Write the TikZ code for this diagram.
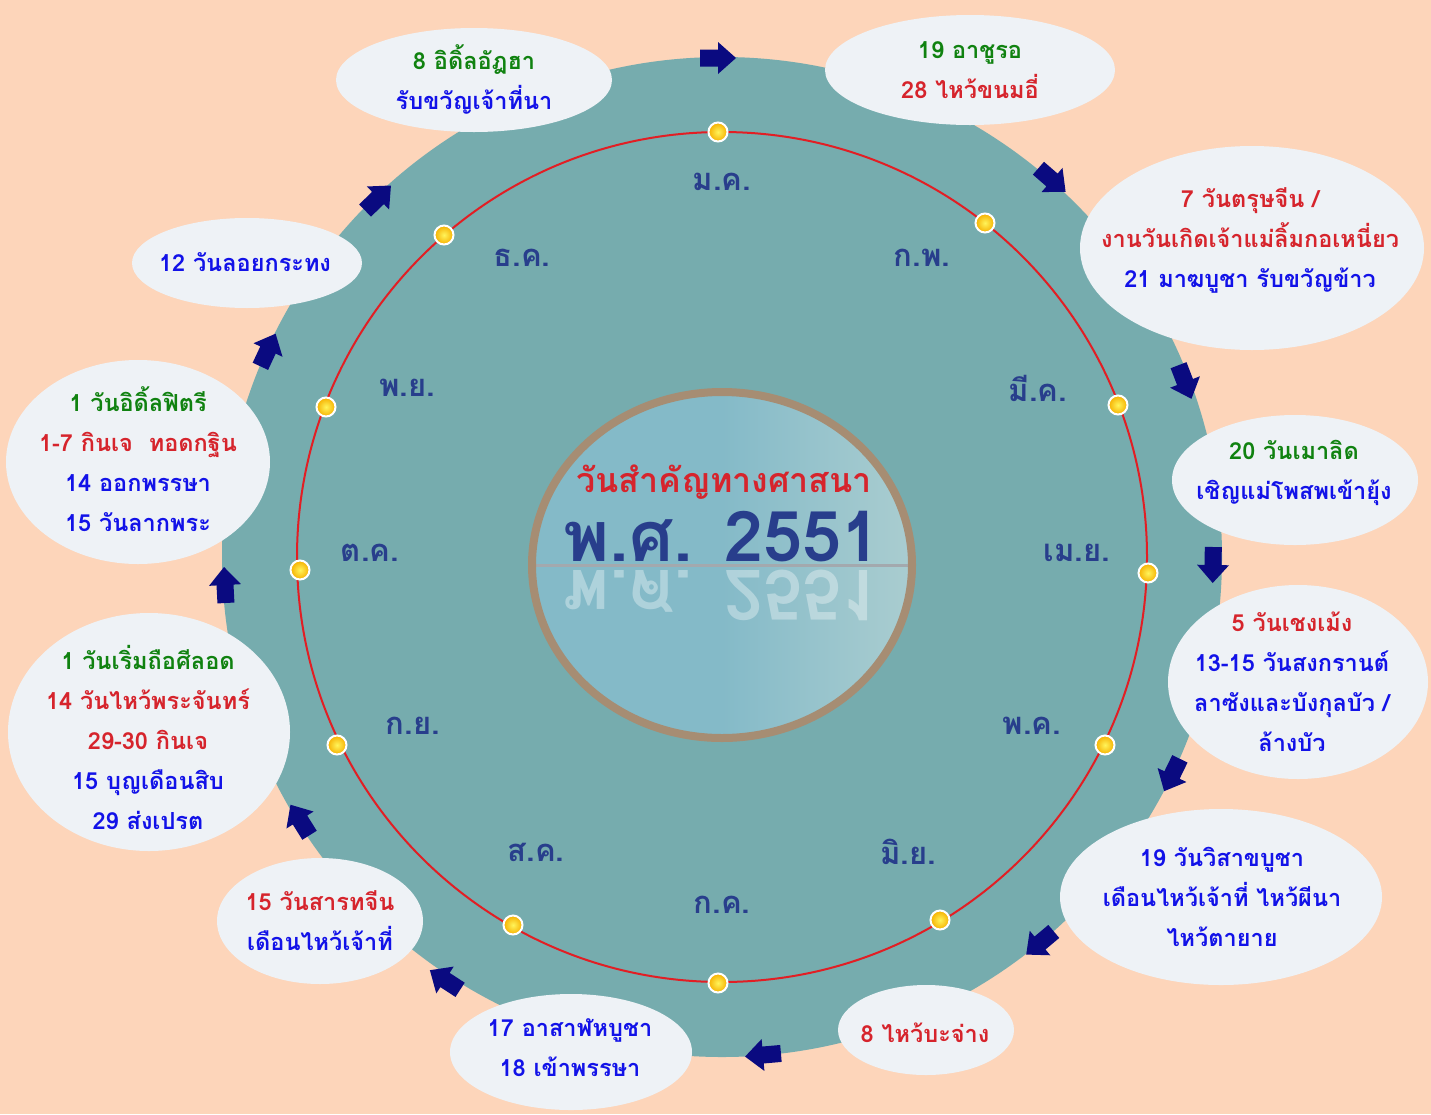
\documentclass[tikz,border=0pt]{standalone}
\usepackage{fontspec}
\setmainfont[Script=Thai]{Loma}
\usetikzlibrary{shapes.geometric}
\definecolor{bgpeach}{RGB}{253,213,186}
\definecolor{tealbg}{RGB}{118,172,174}
\definecolor{ringred}{RGB}{226,30,36}
\definecolor{bubblefill}{RGB}{238,242,246}
\definecolor{tgreen}{RGB}{16,130,16}
\definecolor{tred}{RGB}{214,36,44}
\definecolor{tblue}{RGB}{18,18,232}
\definecolor{monthblue}{RGB}{40,62,140}
\definecolor{navyarrow}{RGB}{10,10,128}
\definecolor{tanring}{RGB}{166,141,115}
\definecolor{cleft}{RGB}{132,186,200}
\definecolor{cright}{RGB}{170,205,208}
\definecolor{dotin}{RGB}{255,244,90}
\definecolor{dotout}{RGB}{246,176,0}
\begin{document}
\begin{tikzpicture}[x=1pt,y=-1pt,
  month/.style={font=\bfseries\fontsize{31}{34}\selectfont, text=monthblue, inner sep=0pt},
  yeardot/.style={circle, draw=white, line width=2pt, inner color=dotin, outer color=dotout, minimum size=19pt, inner sep=0pt},
  bubbletext/.style={align=center, font=\bfseries\fontsize{23.5}{40}\selectfont, inner sep=0pt},
  bubble/.style={fill=bubblefill}
]
\useasboundingbox (0,0) rectangle (1431,1114);
\fill[bgpeach] (0,0) rectangle (1431,1114);
% big teal disc
\fill[tealbg] (722,557) circle [radius=500pt];
% red ring
\draw[ringred, line width=2pt] (722,557) circle [radius=425pt];
% dots
\foreach \px/\py [count=\i] in {718/132, 985/223, 1118/405, 1148/573, 1105/745, 940/920, 718/983, 513/925, 337/745, 300/570, 326/407, 444/235}
  \node[yeardot] (dot\i) at (\px,\py) {};
% month labels
\node[month] (m1) at (722,182) {ม.ค.};
\node[month] (m2) at (922,258) {ก.พ.};
\node[month] (m3) at (1038,388) {มี.ค.};
\node[month] (m4) at (1077,553) {เม.ย.};
\node[month] (m5) at (1032,726) {พ.ค.};
\node[month] (m6) at (908,852) {มิ.ย.};
\node[month] (m7) at (722,905) {ก.ค.};
\node[month] (m8) at (536,852) {ส.ค.};
\node[month] (m9) at (413,726) {ก.ย.};
\node[month] (m10) at (370,553) {ต.ค.};
\node[month] (m11) at (407,388) {พ.ย.};
\node[month] (m12) at (522,258) {ธ.ค.};
% centre medallion
\shade[left color=cleft, right color=cright, middle color=cleft] (722,565) ellipse [x radius=190pt, y radius=173pt];
\begin{scope}
  \clip (722,565) ellipse [x radius=190pt, y radius=173pt];
  \draw[color={rgb,255:red,163;green,169;blue,174}, line width=3pt] (520,565) -- (930,565);
  \begin{scope}[shift={(722,570)}, yscale=-1]
    \node[anchor=base, transform shape, font=\bfseries\fontsize{70}{74}\selectfont, text=white, text opacity=0.35, inner sep=0pt] (yearrefl) at (0,0) {พ.ศ. 2551};
  \end{scope}
\end{scope}
\draw[tanring, line width=8pt] (722,565) ellipse [x radius=190pt, y radius=173pt];
\node[font=\bfseries\fontsize{34}{38}\selectfont, text=tred, inner sep=0pt] (title) at (724,482) {วันสำคัญทางศาสนา};
\node[anchor=base, font=\bfseries\fontsize{70}{74}\selectfont, text=monthblue, inner sep=0pt] (year) at (722,561) {พ.ศ. 2551};
% bubbles
\fill[bubble] (474,80) ellipse [x radius=138pt, y radius=52pt];
\node[bubbletext] (b1) at (474,79) {\textcolor{tgreen}{8 อิดิ้ลอัฎฮา}\\\textcolor{tblue}{รับขวัญเจ้าที่นา}};
\fill[bubble] (970,70) ellipse [x radius=145pt, y radius=55pt];
\node[bubbletext] (b2) at (970,70) {\textcolor{tgreen}{19 อาชูรอ}\\\textcolor{tred}{28 ไหว้ขนมอี่}};
\fill[bubble] (1252,248) ellipse [x radius=172pt, y radius=102pt];
\node[bubbletext] (b3) at (1250,240) {\textcolor{tred}{7 วันตรุษจีน /}\\\textcolor{tred}{งานวันเกิดเจ้าแม่ลิ้มกอเหนี่ยว}\\\textcolor{tblue}{21 มาฆบูชา รับขวัญข้าว}};
\fill[bubble] (1295,480) ellipse [x radius=123pt, y radius=65pt];
\node[bubbletext] (b4) at (1294,473) {\textcolor{tgreen}{20 วันเมาลิด}\\\textcolor{tblue}{เชิญแม่โพสพเข้ายุ้ง}};
\fill[bubble] (1298,682) ellipse [x radius=130pt, y radius=97pt];
\node[bubbletext] (b5) at (1292,682) {\textcolor{tred}{5 วันเชงเม้ง}\\\textcolor{tblue}{13-15 วันสงกรานต์}\\\textcolor{tblue}{ลาซังและบังกุลบัว /}\\\textcolor{tblue}{ล้างบัว}};
\fill[bubble] (1221,897) ellipse [x radius=161pt, y radius=88pt];
\node[bubbletext] (b6) at (1222,897) {\textcolor{tblue}{19 วันวิสาขบูชา}\\\textcolor{tblue}{เดือนไหว้เจ้าที่ ไหว้ผีนา}\\\textcolor{tblue}{ไหว้ตายาย}};
\fill[bubble] (926,1030) ellipse [x radius=88pt, y radius=45pt];
\node[bubbletext] (b7) at (925,1033) {\textcolor{tred}{8 ไหว้บะจ่าง}};
\fill[bubble] (571,1052) ellipse [x radius=121pt, y radius=58pt];
\node[bubbletext] (b8) at (570,1048) {\textcolor{tblue}{17 อาสาฬหบูชา}\\\textcolor{tblue}{18 เข้าพรรษา}};
\fill[bubble] (320,921) ellipse [x radius=103pt, y radius=63pt];
\node[bubbletext] (b9) at (320,921) {\textcolor{tred}{15 วันสารทจีน}\\\textcolor{tblue}{เดือนไหว้เจ้าที่}};
\fill[bubble] (149,732) ellipse [x radius=141pt, y radius=119pt];
\node[bubbletext] (b10) at (148,737) {\textcolor{tgreen}{1 วันเริ่มถือศีลอด}\\\textcolor{tred}{14 วันไหว้พระจันทร์}\\\textcolor{tred}{29-30 กินเจ}\\\textcolor{tblue}{15 บุญเดือนสิบ}\\\textcolor{tblue}{29 ส่งเปรต}};
\fill[bubble] (138,462) ellipse [x radius=132pt, y radius=102pt];
\node[bubbletext] (b11) at (138,459) {\textcolor{tgreen}{1 วันอิดิ้ลฟิตรี}\\\textcolor{tred}{1-7 กินเจ\ \ ทอดกฐิน}\\\textcolor{tblue}{14 ออกพรรษา}\\\textcolor{tblue}{15 วันลากพระ}};
\fill[bubble] (247,263) ellipse [x radius=115pt, y radius=45pt];
\node[bubbletext] (b12) at (245,262) {\textcolor{tblue}{12 วันลอยกระทง}};
% arrows
\foreach \px/\py/\ang in {718/58/0, 1052/180/-41, 1185/382/-69, 1213/565/-91, 1172/775/-116, 1040/943/-140, 763/1055/-175, 445/980/147, 300/820/122, 225/585/93, 268/350/65, 378/198/44}
  \fill[navyarrow, shift={(\px,\py)}, rotate=\ang] (-18,-8.5) -- (0,-8.5) -- (0,-16) -- (18,0) -- (0,16) -- (0,8.5) -- (-18,8.5) -- cycle;
\end{tikzpicture}
\end{document}
